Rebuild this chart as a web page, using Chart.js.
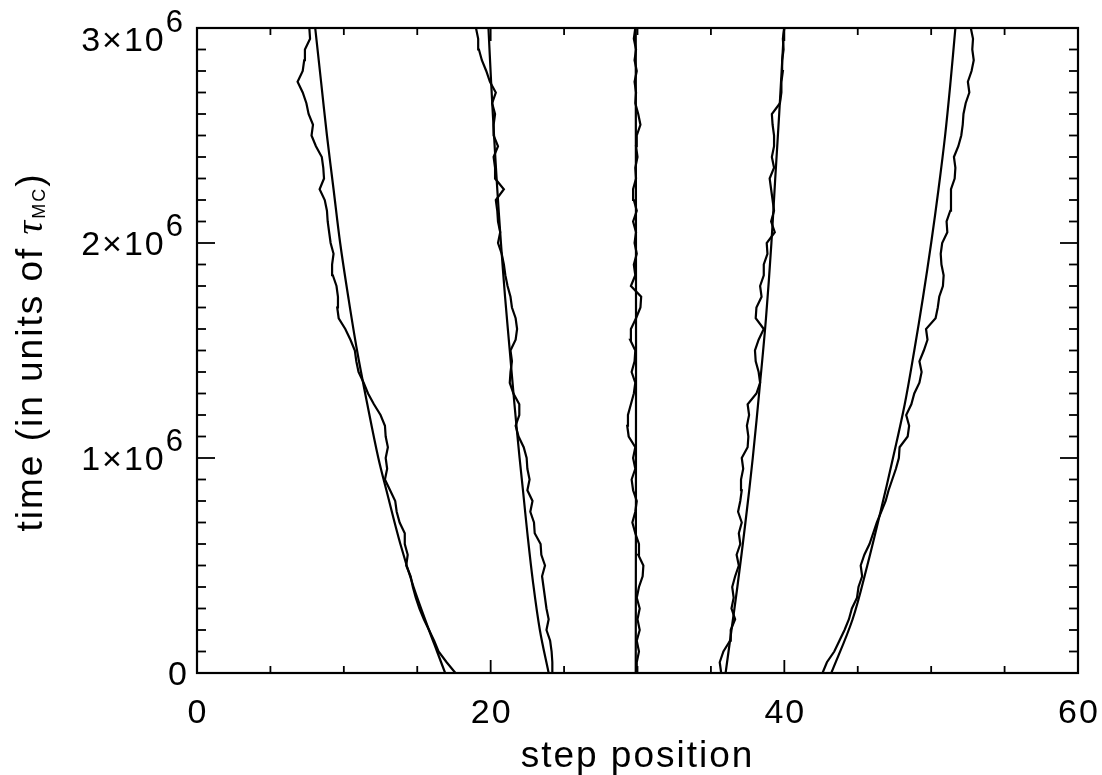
<!DOCTYPE html>
<html>
<head>
<meta charset="utf-8">
<script src="https://cdn.jsdelivr.net/npm/chart.js@4.4.1/dist/chart.umd.min.js"></script>
<style>
  html, body { margin: 0; padding: 0; background: #fff; }
</style>
</head>
<body>
<canvas id="chart" width="1102" height="775"></canvas>
<script>
// time values are in units of 1e6 (tau_MC)
const noisyTime = [0, 0.05, 0.1, 0.15, 0.2, 0.25, 0.3, 0.35, 0.4, 0.45, 0.5, 0.55, 0.6, 0.65, 0.7, 0.75, 0.8, 0.85, 0.9, 0.95,
  1.0, 1.05, 1.1, 1.15, 1.2, 1.25, 1.3, 1.35, 1.4, 1.45, 1.5, 1.55, 1.6, 1.65, 1.7, 1.75, 1.8, 1.85, 1.9, 1.95,
  2.0, 2.05, 2.1, 2.15, 2.2, 2.25, 2.3, 2.35, 2.4, 2.45, 2.5, 2.55, 2.6, 2.65, 2.7, 2.75, 2.8, 2.85, 2.9, 2.95, 3.0];

// simulated step positions
const noisy1X = [17.6, 17.0, 16.45, 16.15, 15.8, 15.45, 15.15, 14.9, 14.7, 14.55, 14.25, 14.35, 14.15, 14.15, 13.8, 13.6, 13.5, 13.15, 12.8, 12.95,
  12.85, 13.0, 12.85, 12.8, 12.5, 12.05, 11.65, 11.35, 11.0, 10.85, 10.75, 10.45, 10.1, 9.65, 9.55, 9.6, 9.5, 9.25, 9.2, 9.3,
  9.1, 9.0, 8.9, 8.85, 8.7, 8.35, 8.65, 8.6, 8.5, 8.1, 7.8, 7.9, 7.6, 7.45, 7.2, 6.85, 7.2, 7.3, 7.35, 7.7, 7.65];
const noisy2X = [24.2, 24.2, 24.15, 24.05, 23.8, 23.95, 23.8, 23.7, 23.6, 23.5, 23.7, 23.45, 23.4, 23.0, 22.95, 22.7, 22.85, 22.5, 22.65, 22.5,
  22.45, 22.25, 21.9, 21.7, 21.95, 21.95, 21.55, 21.3, 21.35, 21.45, 21.35, 21.7, 21.8, 21.7, 21.45, 21.35, 21.15, 21.0, 20.9, 20.75,
  20.5, 20.65, 20.5, 20.45, 20.35, 20.9, 20.3, 20.3, 20.2, 20.5, 20.2, 20.2, 20.3, 20.1, 20.35, 19.95, 19.7, 19.4, 19.2, 19.15, 19.0];
const noisy3X = [29.9, 29.95, 30.1, 29.95, 30.15, 30.0, 30.15, 29.95, 30.1, 30.35, 30.4, 30.05, 30.1, 29.85, 29.65, 29.85, 29.95, 29.7, 29.6, 29.85,
  29.7, 29.85, 29.4, 29.3, 29.35, 29.55, 29.75, 29.85, 29.6, 29.8, 29.85, 29.5, 29.55, 29.9, 30.2, 30.25, 29.55, 29.85, 29.75, 29.95,
  29.8, 29.9, 29.7, 29.95, 29.75, 29.7, 29.9, 29.85, 30.0, 29.9, 29.95, 30.2, 30.05, 29.85, 29.9, 29.8, 29.95, 29.8, 29.9, 29.75, 29.85];
const noisy4X = [35.7, 35.6, 35.85, 36.3, 36.35, 36.65, 36.4, 36.55, 36.45, 36.65, 36.9, 36.75, 37.0, 36.9, 37.1, 36.85, 37.0, 37.1, 37.05, 37.2,
  37.1, 37.5, 37.55, 37.45, 37.6, 37.5, 38.1, 38.35, 38.25, 38.05, 38.0, 38.25, 38.6, 38.05, 38.1, 38.45, 38.35, 38.6, 38.6, 38.85,
  38.8, 39.35, 39.1, 39.3, 39.2, 39.1, 39.0, 39.3, 39.15, 39.3, 39.3, 39.2, 39.15, 39.7, 39.8, 39.8, 39.9, 39.85, 39.95, 39.9, 40.0];
const noisy5X = [42.6, 42.9, 43.4, 43.75, 44.1, 44.4, 44.6, 44.95, 45.05, 45.3, 45.2, 45.45, 45.8, 46.05, 46.3, 46.6, 46.9, 47.1, 47.35, 47.6,
  47.8, 47.85, 48.4, 48.5, 48.3, 48.65, 48.85, 49.2, 49.35, 49.2, 49.5, 49.75, 49.65, 50.3, 50.45, 50.55, 50.8, 50.85, 50.7, 50.65,
  50.75, 51.1, 51.05, 51.3, 51.35, 51.35, 51.6, 51.65, 51.55, 51.85, 52.05, 52.15, 52.2, 52.35, 52.6, 52.5, 52.75, 52.9, 52.8, 52.85, 52.7];

// predicted step positions (smooth curves)
const smooth1T = [0, 0.1, 0.2, 0.4, 0.6, 0.85, 1.0, 1.25, 1.5, 1.75, 2.0, 2.25, 2.5, 2.75, 3.0];
const smooth1X = [16.9, 16.35, 15.8, 14.75, 13.85, 12.9, 12.35, 11.6, 10.9, 10.3, 9.75, 9.3, 8.85, 8.45, 8.05];
const smooth2T = [0, 0.2, 0.43, 0.65, 0.85, 1.0, 1.25, 1.5, 1.75, 2.0, 2.25, 2.5, 2.75, 3.0];
const smooth2X = [23.95, 23.35, 22.87, 22.5, 22.2, 21.97, 21.62, 21.3, 20.98, 20.7, 20.45, 20.23, 20.03, 19.85];
const smooth3T = [0, 1.5, 3.0];
const smooth3X = [29.88, 29.9, 29.88];
const smooth4T = [0, 0.2, 0.4, 0.7, 1.0, 1.35, 1.65, 2.0, 2.3, 2.6, 3.0];
const smooth4X = [36.0, 36.4, 36.8, 37.35, 37.85, 38.35, 38.75, 39.12, 39.38, 39.65, 39.98];
const smooth5T = [0, 0.25, 0.5, 0.75, 1.0, 1.25, 1.5, 1.75, 2.0, 2.25, 2.5, 2.75, 3.0];
const smooth5X = [43.2, 44.65, 45.65, 46.55, 47.4, 48.2, 48.85, 49.45, 50.0, 50.5, 50.95, 51.32, 51.65];

const xTickValues = [0, 20, 40, 60];
const xTickLabels = ['0', '20', '40', '60'];
const yTickValues = [0, 1e6, 2e6, 3e6];
const yTickMantissa = ['0', '1', '2', '3'];

const FONT = '"Liberation Sans", Arial, Helvetica, sans-serif';

function toPoints(xs, ts) {
  return xs.map((x, i) => ({ x: x, y: ts[i] * 1e6 }));
}

const smoothSets = [[smooth1X, smooth1T], [smooth2X, smooth2T], [smooth3X, smooth3T], [smooth4X, smooth4T], [smooth5X, smooth5T]];
const noisySets = [noisy1X, noisy2X, noisy3X, noisy4X, noisy5X];

const datasets = [];
smoothSets.forEach(([xs, ts]) => {
  datasets.push({
    data: toPoints(xs, ts),
    showLine: true,
    borderColor: '#000',
    borderWidth: 2.2,
    pointRadius: 0,
    tension: 0.35
  });
});
noisySets.forEach(xs => {
  datasets.push({
    data: toPoints(xs, noisyTime),
    showLine: true,
    borderColor: '#000',
    borderWidth: 2.2,
    pointRadius: 0,
    tension: 0
  });
});

const whiteBg = {
  id: 'whiteBg',
  beforeDraw(chart) {
    const ctx = chart.ctx;
    ctx.save();
    ctx.fillStyle = '#fff';
    ctx.fillRect(0, 0, chart.width, chart.height);
    ctx.restore();
  }
};

function line(ctx, x1, y1, x2, y2) {
  ctx.beginPath();
  ctx.moveTo(x1, y1);
  ctx.lineTo(x2, y2);
  ctx.stroke();
}

// frame, inward ticks on all sides, labels with superscripts
const axesPlugin = {
  id: 'axesPlugin',
  afterDraw(chart) {
    const { ctx, chartArea: a } = chart;
    const x = chart.scales.x, y = chart.scales.y;
    ctx.save();
    ctx.strokeStyle = '#000';
    ctx.fillStyle = '#000';
    ctx.lineWidth = 2.2;
    ctx.strokeRect(a.left, a.top, a.right - a.left, a.bottom - a.top);

    ctx.lineWidth = 1.8;
    for (let v = 0; v <= 60; v += 5) {
      const px = x.getPixelForValue(v);
      const len = v % 20 === 0 ? 13 : 7;
      line(ctx, px, a.bottom, px, a.bottom - len);
      line(ctx, px, a.top, px, a.top + len);
    }
    for (let k = 0; k <= 30; k++) {
      const py = y.getPixelForValue(k * 1e5);
      const len = k % 10 === 0 ? 18 : 9;
      line(ctx, a.left, py, a.left + len, py);
      line(ctx, a.right, py, a.right - len, py);
    }

    ctx.letterSpacing = '2px';

    // x tick labels
    ctx.font = '34px ' + FONT;
    ctx.textAlign = 'center';
    ctx.textBaseline = 'alphabetic';
    xTickValues.forEach((v, i) => {
      ctx.fillText(xTickLabels[i], x.getPixelForValue(v) + 1, a.bottom + 50);
    });

    // y tick labels
    ctx.textAlign = 'left';
    const rightEdge = a.left - 12;
    yTickValues.forEach((v, i) => {
      const py = y.getPixelForValue(v);
      const base = Math.max(py + 12, 51);
      if (v === 0) {
        ctx.font = '34px ' + FONT;
        const w = ctx.measureText('0').width;
        ctx.fillText('0', rightEdge - w + 4, base);
        return;
      }
      const main = yTickMantissa[i] + '\u00d710';
      ctx.font = '34px ' + FONT;
      const wMain = ctx.measureText(main).width;
      ctx.font = '31px ' + FONT;
      const wSup = ctx.measureText('6').width;
      const start = rightEdge - wMain - wSup;
      ctx.font = '34px ' + FONT;
      ctx.fillText(main, start, base);
      ctx.font = '31px ' + FONT;
      ctx.fillText('6', start + wMain, base - 19);
    });

    // x title
    ctx.font = '37px ' + FONT;
    ctx.textAlign = 'center';
    ctx.fillText('step position', (a.left + a.right) / 2, 767);

    // y title (rotated), with tau_MC
    const parts = [
      { t: 'time (in units of ', f: '37px ' + FONT, dy: 0 },
      { t: '\u03c4', f: 'italic 38px "Liberation Serif", serif', dy: 0 },
      { t: 'MC', f: '18px ' + FONT, dy: 3 },
      { t: ')', f: '37px ' + FONT, dy: 0 }
    ];
    let total = 0;
    parts.forEach(p => { ctx.font = p.f; p.w = ctx.measureText(p.t).width; total += p.w; });
    ctx.translate(42, 352);
    ctx.rotate(-Math.PI / 2);
    ctx.textAlign = 'left';
    let cx = -total / 2;
    parts.forEach(p => {
      ctx.font = p.f;
      ctx.fillText(p.t, cx, p.dy);
      cx += p.w;
    });
    ctx.restore();
  }
};

new Chart(document.getElementById('chart'), {
  type: 'scatter',
  data: { datasets: datasets },
  options: {
    responsive: false,
    animation: false,
    layout: { padding: { left: 0, right: 24, top: 28, bottom: 0 } },
    plugins: { legend: { display: false }, tooltip: { enabled: false } },
    scales: {
      x: {
        type: 'linear', min: 0, max: 60,
        grid: { display: false }, border: { display: false }, ticks: { display: false },
        afterFit: s => { s.height = 102; }
      },
      y: {
        type: 'linear', min: 0, max: 3e6,
        grid: { display: false }, border: { display: false }, ticks: { display: false },
        afterFit: s => { s.width = 197; }
      }
    }
  },
  plugins: [whiteBg, axesPlugin]
});
</script>
</body>
</html>
